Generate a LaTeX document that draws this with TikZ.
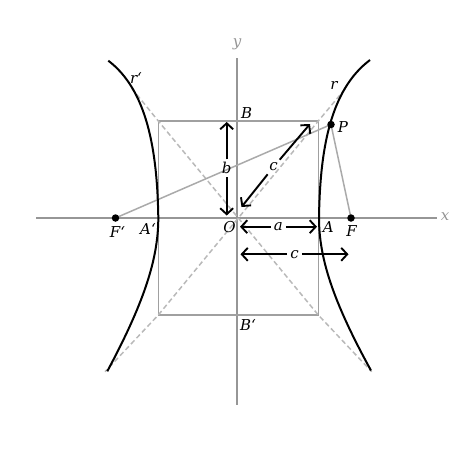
\documentclass[tikz,border=0pt]{standalone}
\usepackage{fontspec}
\setmainfont{DejaVu Serif}
\usetikzlibrary{arrows.meta}
\definecolor{axisgray}{RGB}{150,150,150}
\definecolor{dashgray}{RGB}{185,185,185}
\definecolor{linegray}{RGB}{170,170,170}
\definecolor{rectgray}{RGB}{160,160,160}
\begin{document}
\begin{tikzpicture}[x=1pt,y=-1pt,
  axis/.style={draw=axisgray,line width=1.8pt},
  box/.style={draw=rectgray,line width=1.4pt},
  asym/.style={draw=dashgray,line width=1.5pt,dash pattern=on 5pt off 3pt},
  focal/.style={draw=linegray,line width=1.5pt},
  curve/.style={draw=black,line width=2pt},
  arr/.style={draw=black,line width=1.9pt,-{Straight Barb[length=6pt,width=13pt]}},
  lbl/.style={font=\fontsize{15}{17}\selectfont\itshape,inner sep=1pt},
  alb/.style={lbl,inner sep=3pt},
  dot/.style={circle,fill=black,inner sep=0pt,minimum size=7.5pt}]
\useasboundingbox (0,0) rectangle (474,474);
% axes
\coordinate (xl) at (36,218);
\coordinate (xr) at (437,218);
\coordinate (yt) at (237,58);
\coordinate (yb) at (237,405);
\draw[axis] (xl) -- (xr);
\draw[axis] (yt) -- (yb);
\node[lbl,text=axisgray] (xlab) at (445,217) {x};
\node[lbl,text=axisgray] (ylab) at (237,44) {y};
% rectangle
\coordinate (ul) at (158.3,121);
\coordinate (ur) at (318.3,121);
\coordinate (ll) at (158.3,315);
\coordinate (lr) at (318.3,315);
\draw[box] (ul) rectangle (lr);
% asymptotes
\coordinate (d1) at (131.7,88.3);
\coordinate (d2) at (371.7,371.7);
\coordinate (d3) at (345,89);
\coordinate (d4) at (105,371.7);
\draw[asym] (d1) -- (ul) -- (lr) -- (d2);
\draw[asym] (d3) -- (ur) -- (ll) -- (d4);
% points
\coordinate (Fpc) at (115.5,218);
\coordinate (Fc) at (351,218);
\coordinate (Pc) at (331,124.5);
\draw[focal] (Fpc) -- (Pc) -- (Fc);
% hyperbola
\draw[curve] (370,60) .. controls (330,90) and (320,150) .. (319,218)
  -- plot[domain=0:1.074,samples=40,variable=\t] ({237+82*cosh(\t)},{218+118*sinh(\t)});
\draw[curve] (108.3,60.7) .. controls (147,90) and (157.3,150) .. (158.3,218)
  -- plot[domain=0:1.085,samples=40,variable=\t] ({237-78.7*cosh(\t)},{218+117*sinh(\t)});
\node[dot] (Fp) at (Fpc) {};
\node[dot] (F) at (Fc) {};
\node[dot] (P) at (Pc) {};
% arrows
\node[alb] (lb) at (226.7,168.3) {b};
\coordinate (b1) at (226.7,122);
\coordinate (b2) at (226.7,215.5);
\draw[arr] (lb) -- (b1);
\draw[arr] (lb) -- (b2);
\node[alb] (lc) at (273.5,167) {c};
\coordinate (c1) at (241.5,207);
\coordinate (c2) at (310,124);
\draw[arr] (lc) -- (c1);
\draw[arr] (lc) -- (c2);
\node[alb] (la) at (278.3,226.7) {a};
\coordinate (a1) at (240,226.7);
\coordinate (a2) at (317,226.7);
\draw[arr] (la) -- (a1);
\draw[arr] (la) -- (a2);
\node[alb] (lc2) at (294.5,254.3) {c};
\coordinate (e1) at (240.5,254.3);
\coordinate (e2) at (348.5,254.3);
\draw[arr] (lc2) -- (e1);
\draw[arr] (lc2) -- (e2);
% labels
\node[lbl] (lB) at (246.7,113.3) {B};
\node[lbl] (lBp) at (248,325) {B‘};
\node[lbl] (lA) at (328.3,226.7) {A};
\node[lbl,anchor=east] (lAp) at (157,229) {A‘};
\node[lbl] (lFp) at (117.5,232.3) {F‘};
\node[lbl] (lF) at (351.7,231) {F};
\node[lbl] (lO) at (229.5,226.7) {O};
\node[lbl] (lP) at (343,127.3) {P};
\node[lbl] (lr) at (334,85) {r};
\node[lbl] (lrp) at (136,77.7) {r‘};
\end{tikzpicture}
\end{document}
